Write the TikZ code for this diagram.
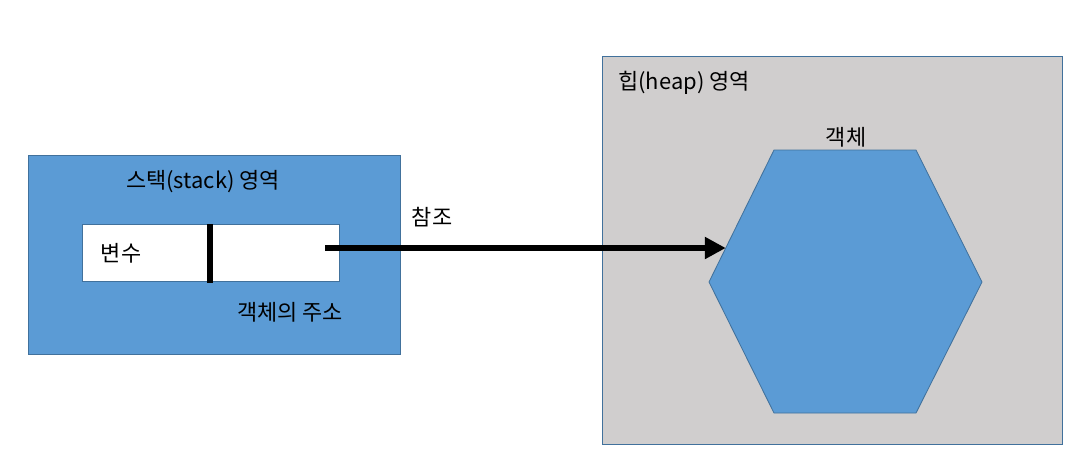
\documentclass[tikz,border=0pt]{standalone}
\usepackage{fontspec}
\setmainfont{Noto Sans CJK KR}
\usetikzlibrary{arrows.meta,positioning,calc,fit}

\definecolor{areablue}{HTML}{5B9BD5}
\definecolor{edgeblue}{HTML}{41719C}
\definecolor{heapgray}{HTML}{D0CECE}

\begin{document}
\begin{tikzpicture}[
  x=0.025cm, y=-0.025cm,
  stackbox/.style={draw=edgeblue, fill=areablue, line width=0.6pt, inner sep=0pt},
  heapbox/.style={draw=edgeblue, fill=heapgray, line width=0.6pt, inner sep=0pt},
  cell/.style={draw=edgeblue, fill=white, line width=0.4pt, inner sep=0pt},
  hexbox/.style={draw=edgeblue, fill=areablue, line width=0.6pt},
  lbl/.style={font=\fontsize{15.6}{18}\selectfont, inner sep=0pt},
  divider/.style={line width=0.15cm},
  arr/.style={-{Triangle[length=0.525cm, width=0.525cm]}, line width=0.15cm}
]
\useasboundingbox (0,0) rectangle (1075,455);

% stack area
\node[stackbox, fit={(28,155) (400,354)}] (stack) {};
\node[cell, fit={(82,224) (339,281)}] (var) {};
\draw[divider] (210,224) coordinate (divtop) -- (210,283) coordinate (divbot);
\node[lbl] (stacklbl) at (203,182) {스택(stack) 영역};
\node[lbl] (varlbl) at (121,253) {변수};
\node[lbl] (addrlbl) at (290,312) {객체의 주소};

% heap area
\node[heapbox, fit={(602,56) (1062,444)}] (heap) {};
\node[lbl] (heaplbl) at (684,83) {힙(heap) 영역};
\coordinate (hexnw) at (774,150);
\coordinate (hexne) at (916,150);
\coordinate (hexe) at (982,282);
\coordinate (hexse) at (916,413);
\coordinate (hexsw) at (774,413);
\coordinate (hexw) at (709,282);
\draw[hexbox] (hexnw) -- (hexne) -- (hexe) -- (hexse) -- (hexsw) -- (hexw) -- cycle;
\node[lbl] (objlbl) at (846,137) {객체};

% reference arrow
\coordinate (ptr) at (325,248);
\coordinate (hit) at ($(hexnw)!0.742!(hexw)$);
\draw[arr] (ptr) -- (ptr -| hit);
\node[lbl] (reflbl) at (432,217) {참조};

\end{tikzpicture}
\end{document}
